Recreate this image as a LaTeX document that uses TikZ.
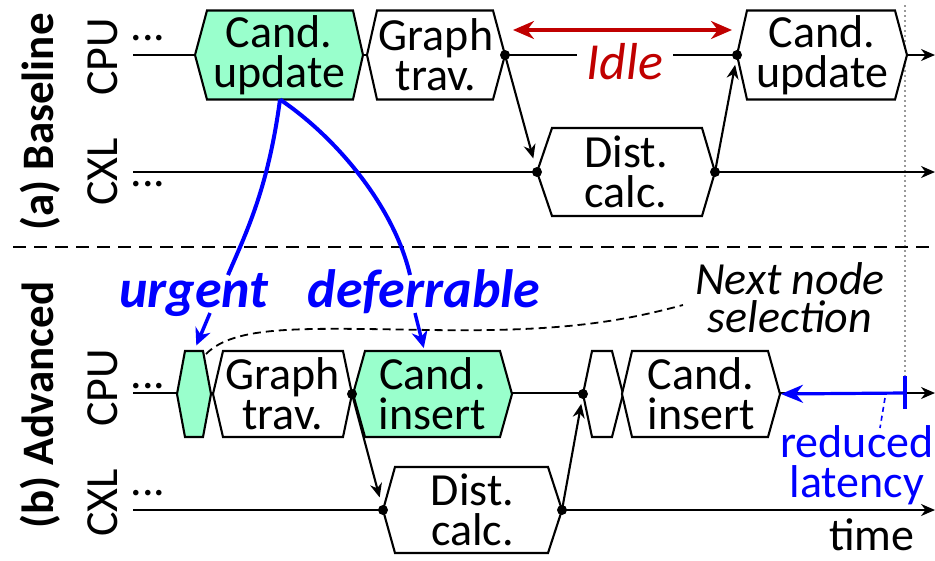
\documentclass[tikz,border=0pt]{standalone}
\usepackage{fontspec}
\setmainfont{Carlito}
\usetikzlibrary{arrows.meta}
\definecolor{mint}{HTML}{99FFCC}
\definecolor{idlered}{HTML}{C00000}
\definecolor{hotblue}{HTML}{0000FF}

% hexagonal stage: name, fill, left tip x, top-left x, top-right x, right tip x, centre y, half height, text
\newcommand{\hexstage}[9]{%
  \draw[stage, fill=#2] (#3,#7) -- (#4,#7-#8) -- (#5,#7-#8) -- (#6,#7) -- (#5,#7+#8) -- (#4,#7+#8) -- cycle;
  \coordinate (#1-l) at (#3,#7);
  \coordinate (#1-r) at (#6,#7);
  \coordinate (#1-t) at ({(#4+#5)/2},#7-#8);
  \coordinate (#1-b) at ({(#4+#5)/2},#7+#8);
  \node[stagetext] (#1) at ({(#3+#6)/2},#7) {#9};
}

\begin{document}
\begin{tikzpicture}[x=1pt,y=-1pt,
  stage/.style={line width=2.1pt, line join=miter},
  stagetext/.style={align=center, inner sep=0pt, font=\fontsize{46}{40}\selectfont},
  axis/.style={line width=2.1pt, -{Stealth[length=14pt,width=12pt]}},
  hop/.style={line width=2.1pt, -{Stealth[length=14pt,width=12pt]}},
  dot/.style={circle, fill=black, inner sep=0pt, minimum size=10pt},
  lbl/.style={font=\fontsize{46}{40}\selectfont},
  sidelbl/.style={rotate=90, font=\fontsize{46}{46}\selectfont},
  seclbl/.style={rotate=90, font=\fontsize{45}{45}\selectfont\bfseries},
  blabel/.style={font=\fontsize{54}{54}\selectfont\bfseries\itshape, text=hotblue},
  bluearr/.style={hotblue, line width=3.5pt, -{Stealth[length=17pt,width=16pt]}},
  ]
\useasboundingbox (0,0) rectangle (935,560);

% time marker
\draw[gray!80, line width=1.6pt, dash pattern=on 2pt off 3pt] (905,5) -- (905,378);

% section separator
\draw[line width=2.2pt, dash pattern=on 13pt off 8pt] (13,247) -- (935,247);

% side labels
\node[seclbl] (secA) at (40,122) {(a) Baseline};
\node[seclbl] (secB) at (40,405) {(b) Advanced};
\node[sidelbl] (cpuAlab) at (103,57) {CPU};
\node[sidelbl] (cxlAlab) at (103,172) {CXL};
\node[sidelbl] (cpuBlab) at (103,388) {CPU};
\node[sidelbl] (cxlBlab) at (103,503) {CXL};

\node[lbl, anchor=base] (dotsA1) at (148,40) {...};
\node[lbl, anchor=base] (dotsA2) at (148,186) {...};
\node[lbl, anchor=base] (dotsB1) at (148,388) {...};
\node[lbl, anchor=base] (dotsB2) at (148,495) {...};

% timelines
\coordinate (cpuA0) at (133,55);  \coordinate (cpuA1) at (935,55);
\coordinate (cxlA0) at (133,172); \coordinate (cxlA1) at (935,172);
\coordinate (cpuB0) at (133,393); \coordinate (cpuB1) at (935,393);
\coordinate (cxlB0) at (133,510); \coordinate (cxlB1) at (935,510);
\draw[axis] (cpuA0) -- (cpuA1);
\draw[axis] (cxlA0) -- (cxlA1);
\draw[axis] (cpuB0) -- (cpuB1);
\draw[axis] (cxlB0) -- (cxlB1);

% baseline stages
\hexstage{cu1}{mint}{195}{207}{353}{363}{55}{44.5}{Cand.\\update}
\hexstage{gt1}{white}{367}{377}{493}{505}{55}{44.5}{Graph\\trav.}
\hexstage{cu2}{white}{737}{747}{895}{907}{55}{44.5}{Cand.\\update}
\hexstage{dc1}{white}{537}{552}{702}{715}{172}{44}{Dist.\\calc.}

% advanced stages
\hexstage{uh}{mint}{177}{185}{203}{211}{394}{43}{}
\hexstage{gt2}{white}{213}{223}{343}{352}{394}{43}{Graph\\trav.}
\hexstage{ci1}{mint}{353}{365}{500}{512}{394}{43}{Cand.\\insert}
\hexstage{sh}{white}{583}{592}{612}{623}{394}{43}{}
\hexstage{ci2}{white}{622}{632}{768}{780}{394}{43}{Cand.\\insert}
\hexstage{dc2}{white}{383}{395}{548}{562}{510}{43}{Dist.\\calc.}

% handover dots
\node[dot] (p1) at (gt1-r) {};
\node[dot] (p2) at (cu2-l) {};
\node[dot] (p3) at (dc1-l) {};
\node[dot] (p4) at (dc1-r) {};
\node[dot] (p5) at (gt2-r) {};
\node[dot] (p6) at (sh-l) {};
\node[dot] (p7) at (dc2-l) {};
\node[dot] (p8) at (dc2-r) {};

% handovers between CPU and CXL
\draw[hop, shorten >=14pt] (gt1-r) -- (dc1-l);
\draw[hop, shorten >=10pt] (dc1-r) -- (cu2-l);
\draw[hop, shorten >=13pt] (gt2-r) -- (dc2-l);
\draw[hop, shorten >=10pt] (dc2-r) -- (sh-l);

% idle period
\node[font=\fontsize{52}{52}\selectfont\itshape, text=idlered, fill=white, inner xsep=10pt, inner ysep=0pt] (idle) at (625,62) {Idle};
\coordinate (idleL) at (513,30);
\coordinate (idleR) at (732,30);
\draw[idlered, line width=3.2pt, {Stealth[length=21pt,width=18pt]}-{Stealth[length=21pt,width=18pt]}] (idleL) -- (idleR);

% splitting the candidate update
\coordinate (urgT) at (228,275);
\coordinate (defT) at (410,275);
\draw[hotblue, line width=4pt] (cu1-b) .. controls (268,190) and (245,235) .. (urgT);
\draw[hotblue, line width=4pt] (cu1-b) .. controls (340,140) and (395,210) .. (defT);
\node[blabel, anchor=base] (urg) at (194,307) {urgent};
\node[blabel, anchor=base] (def) at (424,307) {deferrable};
\coordinate (urgA) at (210,313);
\coordinate (defA) at (415,313);
\coordinate (defB) at ([xshift=-8pt]ci1-t);
\draw[bluearr, shorten >=6pt] (urgA) -- (uh-t);
\draw[bluearr, shorten >=3pt] (defA) -- (defB);

% next node selection
\node[lbl, font=\fontsize{46}{38}\selectfont\itshape, align=center] (nns) at (790,298) {Next node\\selection};
\coordinate (nnsStart) at (206,354);
\coordinate (nnsEnd) at (683,305);
\draw[line width=1.8pt, dash pattern=on 8pt off 5pt] (nnsStart) .. controls (235,325) and (300,328) .. (430,330) .. controls (560,332) and (620,322) .. (nnsEnd);

% reduced latency
\coordinate (tick) at (905,393);
\draw[hotblue, line width=3.2pt, -{Stealth[length=22pt,width=18pt]}, shorten >=1pt] (tick) -- (ci2-r);
\draw[hotblue, line width=3.2pt] ([yshift=17pt]tick) -- ([yshift=-16pt]tick);
\draw[hotblue, line width=1.6pt, dash pattern=on 5pt off 4pt] (885,398) -- (880,428);
\node[lbl, text=hotblue, align=center] (redlat) at (857,465) {reduced\\latency};

\node[lbl, anchor=base, inner sep=0pt] (time) at (872,550) {time};
\end{tikzpicture}
\end{document}
